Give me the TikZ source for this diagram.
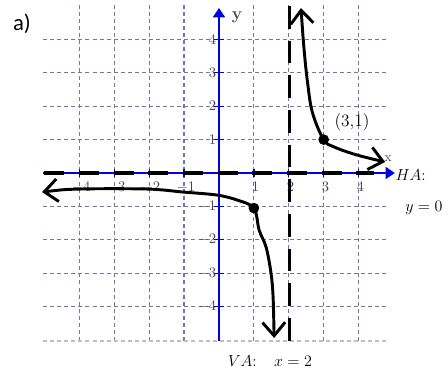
\documentclass[tikz,border=0pt]{standalone}
\usepackage{fontspec}
\newfontfamily\calib{Carlito}
\usetikzlibrary{arrows.meta}
\definecolor{gridc}{RGB}{118,118,168}
\definecolor{gridl}{RGB}{190,190,200}
\definecolor{axisblue}{RGB}{0,0,230}
\definecolor{tickgray}{RGB}{70,70,70}
\tikzset{
  gridline/.style={gridc, line width=0.9pt, dash pattern=on 3pt off 2.3pt},
  axisline/.style={axisblue, line width=1.6pt},
  ticklbl/.style={tickgray, font=\fontsize{11}{13}\selectfont, inner sep=0pt},
  handcurve/.style={black, line width=2.2pt, line cap=round, line join=round},
  asym/.style={black, line width=2.4pt},
  dotpt/.style={circle, fill=black, inner sep=0pt, minimum size=8pt},
  bigmath/.style={font=\fontsize{13}{15}\selectfont, inner sep=0pt},
}
\begin{document}
\begin{tikzpicture}[x=26.175pt, y=25.05pt]
\useasboundingbox (-6.275,-6.018) rectangle (6.562,5.18);
% grid
\foreach \i in {-4,-3,-2,-1,1,2,3,4}{
  \draw[gridline] (\i,-5.03) -- (\i,5.03);
  \draw[gridline] (-5.04,\i) -- (4.87,\i);
}
\draw[gridl, line width=0.9pt, dash pattern=on 3pt off 2.3pt] (-5.04,-5.03) -- (4.87,-5.03);
% axes
\draw[axisline, -{Triangle[length=7pt,width=9pt]}] (-5.04,0) -- (5.04,0);
\draw[axisline, -{Triangle[length=7pt,width=9pt]}] (0,-5.03) -- (0,4.94);
\foreach \i in {-4,-3,-2,-1,1,2,3,4}{
  \draw[axisblue, line width=1pt] (\i,-0.12) -- (\i,0.12);
  \draw[axisblue, line width=1pt] (-0.15,\i) -- (0.15,\i);
}
% tick labels
\foreach \i in {-4,-3,-2,-1,1,2,3,4}{
  \node[ticklbl, anchor=east] (yl\i) at (-0.07,\i) {$\i$};
  \node[ticklbl] (xl\i) at (\i+0.05,-0.42) {$\i$};
}
\node[tickgray, font=\bfseries\fontsize{13}{15}\selectfont, inner sep=0pt] (ylab) at (0.52,4.66) {y};
\node[tickgray, font=\fontsize{10}{12}\selectfont, inner sep=0pt] (xlab) at (4.85,0.42) {x};
% asymptotes
\draw[asym, dash pattern=on 15pt off 11pt] (-5.0,0) -- (4.45,0);
\draw[asym, dash pattern=on 17pt off 9pt] (2.03,5.0) -- (2.03,-5.03);
% points
\coordinate (p31) at (3,1);
\coordinate (p11) at (1,-1.05);
% right branch
\draw[handcurve, {Straight Barb[length=10pt,width=17pt]}-{Straight Barb[length=10pt,width=17pt]}]
  plot[smooth, tension=0.6] coordinates {(2.35,4.94) (2.44,3.68) (2.54,2.69) (2.68,1.80) (3,1) (3.30,0.78) (3.95,0.54) (4.76,0.33)};
% left branch
\draw[handcurve, {Straight Barb[length=10pt,width=17pt]}-{Straight Barb[length=10pt,width=17pt]}]
  plot[smooth, tension=0.55] coordinates {(-5.07,-0.57) (-3.98,-0.48) (-2.06,-0.48) (-1.03,-0.57) (-0.06,-0.66) (0.52,-0.81) (1,-1.05) (1.15,-1.71) (1.35,-2.22) (1.49,-2.99) (1.55,-3.71) (1.58,-4.94)};
\node[dotpt] (d31) at (p31) {};
\node[dotpt] (d11) at (p11) {};
% labels
\node[font=\fontsize{13}{15}\selectfont, inner sep=0pt] (lbl31) at (3.81,1.53) {(3,1)};
\node[bigmath, anchor=west] (ha) at (5.05,-0.05) {$HA{:}$};
\node[bigmath] (y0) at (5.87,-1.05) {$y=0$};
\node[bigmath] (va) at (1.46,-5.63) {$VA{:}\quad x=2$};
\node[font=\calib\fontsize{17}{20}\selectfont, inner sep=0pt] (alab) at (-5.645,4.46) {a)};
\end{tikzpicture}
\end{document}
